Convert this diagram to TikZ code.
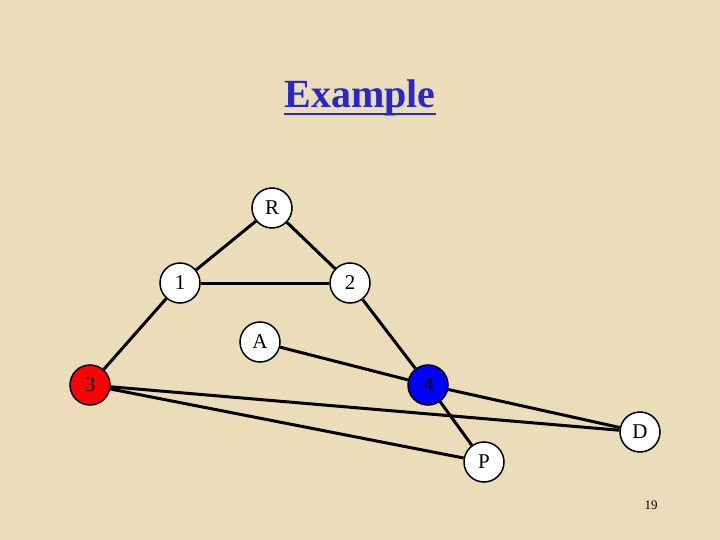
\documentclass[tikz,border=0pt]{standalone}
\usepackage{fontspec}
\setmainfont{Liberation Serif}
\definecolor{parch}{HTML}{EBDDBA}
\definecolor{ttl}{HTML}{2828C8}
\begin{document}
\begin{tikzpicture}[x=1pt,y=-1pt,
  vtx/.style={circle,draw=black,line width=1.5pt,fill=white,minimum size=40pt,inner sep=0pt,font=\fontsize{21}{21}\selectfont},
  edge/.style={line width=3pt}]
\fill[parch] (0,0) rectangle (720,540);
\useasboundingbox (0,0) rectangle (720,540);
\node[font=\bfseries\fontsize{40}{40}\selectfont,text=ttl,inner sep=0pt,anchor=base] (t) at (360,108) {Example};
\draw[ttl,line width=2pt] (t.base west)++(0,6) -- ([yshift=-6pt]t.base east);
\node[vtx] (R) at (272,208) {R};
\node[vtx] (n1) at (180,283) {1};
\node[vtx] (n2) at (350,283) {2};
\node[vtx] (A) at (260,342) {A};
\node[vtx,fill=red] (n3) at (90,385) {3};
\node[vtx,fill=blue] (n4) at (428,385) {4};
\node[vtx] (D) at (640,432) {D};
\node[vtx] (P) at (484,462) {P};
\node[font=\fontsize{13}{13}\selectfont] (pg) at (651,505) {19};
\draw[edge] (R)--(n1);
\draw[edge] (R)--(n2);
\draw[edge] (n1)--(n2);
\draw[edge] (n1)--(n3);
\draw[edge] (n2)--(n4);
\draw[edge] (A)--(n4);
\draw[edge] (n4)--(D);
\draw[edge] (n3)--(D);
\draw[edge] (n3)--(P);
\draw[edge] (n4)--(P);
\end{tikzpicture}
\end{document}
